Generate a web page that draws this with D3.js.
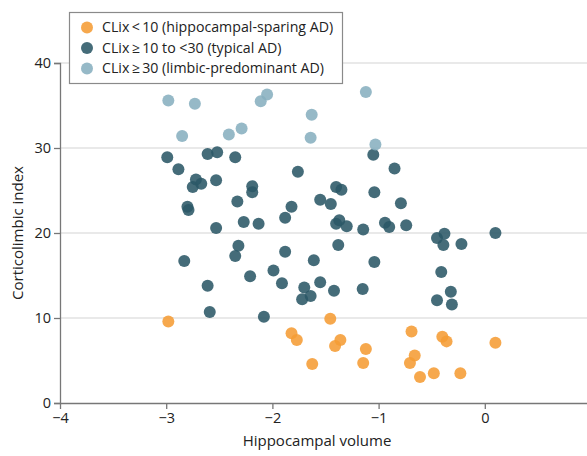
<!DOCTYPE html>
<html>
<head>
<meta charset="utf-8">
<script src="https://cdn.jsdelivr.net/npm/d3@7"></script>
<style>
    body { margin: 0; background: #fff; }
    svg { display: block; font-family: "Open Sans", "Noto Sans", sans-serif; }
</style>
</head>
<body>
<svg id="chart"></svg>
<script>

// hippocampal-sparing AD (CLix < 10)
var sparingX = [-2.98, -1.82, -1.77, -1.455, -1.36, -1.41, -1.12, -1.145, -1.625, -0.69, -0.40, -0.36, 0.10, -0.66, -0.705, -0.61, -0.48, -0.23];
var sparingY = [9.6, 8.2, 7.4, 9.9, 7.4, 6.7, 6.35, 4.7, 4.6, 8.4, 7.8, 7.25, 7.1, 5.6, 4.7, 3.06, 3.5, 3.5];

// typical AD (CLix 10 to <30)
var typicalX = [-2.99, -2.885, -2.61, -2.52, -2.35, -2.72, -2.75, -2.67, -2.53, -2.80, -2.79, -2.33, -2.19, -2.19,
    -1.76, -2.27, -2.13, -2.53, -1.88, -1.82, -1.55, -1.45, -1.40, -1.35, -1.40, -1.37, -1.30, -1.145, -1.05, -0.85,
    -1.04, -0.79, -0.94, -0.90, -0.74, -0.45, -0.38, -0.39, -0.22, 0.10, -1.38, -1.61, -1.04, -0.41, -1.55, -1.70,
    -1.64, -1.72, -1.42, -1.15, -0.32, -0.45, -0.31, -2.32, -2.35, -2.83, -1.88, -1.99, -2.21, -1.91, -2.61, -2.59, -2.08];
var typicalY = [28.9, 27.5, 29.3, 29.5, 28.9, 26.3, 25.4, 25.8, 26.2, 23.1, 22.7, 23.7, 25.5, 24.8,
    27.2, 21.3, 21.1, 20.6, 21.8, 23.1, 23.9, 23.4, 25.4, 25.1, 21.1, 21.5, 20.8, 20.4, 29.2, 27.6,
    24.8, 23.5, 21.2, 20.7, 20.9, 19.4, 19.9, 18.6, 18.7, 20.0, 18.6, 16.8, 16.6, 15.4, 14.2, 13.6,
    12.6, 12.2, 13.2, 13.4, 13.1, 12.1, 11.6, 18.5, 17.3, 16.7, 17.8, 15.6, 14.9, 14.1, 13.8, 10.7, 10.15];

// limbic-predominant AD (CLix >= 30)
var limbicX = [-2.98, -2.73, -2.85, -2.41, -2.29, -2.11, -2.05, -1.63, -1.64, -1.12, -1.03];
var limbicY = [35.6, 35.2, 31.4, 31.6, 32.3, 35.5, 36.3, 33.9, 31.2, 36.6, 30.4];

var groupLabels = [
    'CLix\u2009<\u200910 (hippocampal-sparing AD)',
    'CLix\u2009\u2265\u200910 to <30 (typical AD)',
    'CLix\u2009\u2265\u200930 (limbic-predominant AD)'
];
var groupColors = ['#f59c34', '#2b5866', '#88afbf'];

var xTicks = [-4, -3, -2, -1, 0, 1];
var yTicks = [0, 10, 20, 30, 40];

var config = {
    width: 587,
    height: 456,
    left: 60,
    right: 591,
    top: 63,
    bottom: 403,
    radius: 6,
    opacity: 0.88
};

var svg = d3.select('#chart')
    .attr('width', config.width)
    .attr('height', config.height);

var x = d3.scaleLinear().domain([-4, 1]).range([config.left, config.right]);
var y = d3.scaleLinear().domain([0, 40]).range([config.bottom, config.top]);

/**
 * Gridlines and both axes
 */
function drawAxes() {
    svg.append('g').attr('class', 'grid')
        .selectAll('line')
        .data(yTicks.filter(function (d) { return d > 0; }))
        .enter().append('line')
        .attr('x1', config.left)
        .attr('x2', config.width)
        .attr('y1', function (d) { return y(d); })
        .attr('y2', function (d) { return y(d); })
        .attr('stroke', '#d4d4d4')
        .attr('stroke-width', 1.2);

    var xAxis = svg.append('g')
        .attr('transform', 'translate(0,' + config.bottom + ')')
        .call(d3.axisBottom(x).tickValues(xTicks).tickSize(6).tickPadding(4)
            .tickFormat(function (d) { return d === 1 ? '' : d3.format('')(d).replace('-', '\u2212'); }));

    var yAxis = svg.append('g')
        .attr('transform', 'translate(' + config.left + ',0)')
        .call(d3.axisLeft(y).tickValues(yTicks).tickSize(6).tickPadding(3));

    [xAxis, yAxis].forEach(function (axis) {
        axis.select('.domain').attr('stroke', '#777').attr('stroke-width', 1.3);
        axis.selectAll('.tick line').attr('stroke', '#777').attr('stroke-width', 1.3);
        axis.selectAll('.tick text')
            .attr('fill', '#222')
            .style('font-size', '14.5px')
            .style('font-family', '"Open Sans", sans-serif');
    });
    xAxis.select('.domain').attr('d', 'M' + config.left + ',0.5H' + config.width);

    svg.append('text')
        .attr('x', x(-1.58))
        .attr('y', 446)
        .attr('text-anchor', 'middle')
        .attr('fill', '#222')
        .style('font-size', '15px')
        .text('Hippocampal volume');

    svg.append('text')
        .attr('transform', 'translate(23,' + y(20) + ') rotate(-90)')
        .attr('text-anchor', 'middle')
        .attr('fill', '#222')
        .style('font-size', '15px')
        .text('Corticolimbic index');
}

/**
 * One group of points
 */
function drawGroup(xs, ys, color) {
    svg.append('g')
        .selectAll('circle')
        .data(d3.zip(xs, ys))
        .enter().append('circle')
        .attr('cx', function (d) { return x(d[0]); })
        .attr('cy', function (d) { return y(d[1]); })
        .attr('r', config.radius)
        .attr('fill', color)
        .attr('fill-opacity', config.opacity);
}

/**
 * Legend box in the upper left
 */
function drawLegend() {
    var legend = svg.append('g').attr('transform', 'translate(69,12)');

    legend.append('rect')
        .attr('x', 0.5).attr('y', 0.5)
        .attr('width', 273).attr('height', 71)
        .attr('fill', '#fff')
        .attr('stroke', '#8a8a8a')
        .attr('stroke-width', 1.2);

    var rows = legend.selectAll('.legend-row')
        .data(groupLabels)
        .enter().append('g')
        .attr('class', 'legend-row')
        .attr('transform', function (d, i) { return 'translate(18,' + (15.5 + i * 20.5) + ')'; });

    rows.append('circle')
        .attr('r', config.radius)
        .attr('fill', function (d, i) { return groupColors[i]; })
        .attr('fill-opacity', config.opacity);

    rows.append('text')
        .attr('x', 15)
        .attr('dy', '0.35em')
        .attr('fill', '#222')
        .style('font-size', '14.2px')
        .text(function (d) { return d; });
}

drawAxes();
drawGroup(typicalX, typicalY, groupColors[1]);
drawGroup(limbicX, limbicY, groupColors[2]);
drawGroup(sparingX, sparingY, groupColors[0]);
drawLegend();

</script>
</body>
</html>
